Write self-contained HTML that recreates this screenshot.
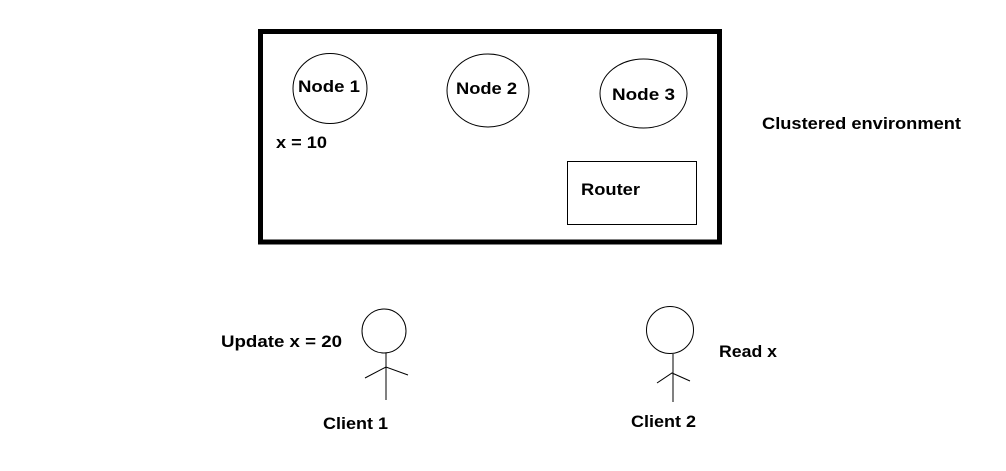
<!DOCTYPE html>
<html><head><style>body{margin:0;background:#fff}svg{display:block}text{font-family:"Liberation Sans",sans-serif;font-weight:bold;font-size:17px;fill:#000}</style></head>
<body><svg width="1006" height="471" viewBox="0 0 1006 471">
<rect x="260.5" y="31.5" width="459" height="210.5" fill="none" stroke="#000" stroke-width="5"/>
<ellipse cx="330" cy="88.5" rx="37" ry="35" fill="none" stroke="#000"/>
<ellipse cx="488" cy="90.5" rx="41" ry="36.5" fill="none" stroke="#000"/>
<ellipse cx="643.5" cy="93.5" rx="43.5" ry="34.5" fill="none" stroke="#000"/>
<rect x="567.5" y="161.5" width="129" height="63" fill="none" stroke="#000"/>
<text x="298" y="92" textLength="62" lengthAdjust="spacingAndGlyphs">Node 1</text>
<text x="456" y="94" textLength="61" lengthAdjust="spacingAndGlyphs">Node 2</text>
<text x="612" y="100" textLength="63" lengthAdjust="spacingAndGlyphs">Node 3</text>
<text x="276" y="148" textLength="51" lengthAdjust="spacingAndGlyphs">x = 10</text>
<text x="581" y="195" textLength="59" lengthAdjust="spacingAndGlyphs">Router</text>
<text x="762" y="129" textLength="199" lengthAdjust="spacingAndGlyphs">Clustered environment</text>
<circle cx="384" cy="331" r="22" fill="none" stroke="#000"/>
<path d="M386 353V400M365 378L386 367L408 375" fill="none" stroke="#000"/>
<circle cx="670" cy="330" r="23.5" fill="none" stroke="#000"/>
<path d="M673 354V402M657 383L672 373L690 381" fill="none" stroke="#000"/>
<text x="221" y="347" textLength="121" lengthAdjust="spacingAndGlyphs">Update x = 20</text>
<text x="719" y="357" textLength="58" lengthAdjust="spacingAndGlyphs">Read x</text>
<text x="323" y="429" textLength="65" lengthAdjust="spacingAndGlyphs">Client 1</text>
<text x="631" y="427" textLength="65" lengthAdjust="spacingAndGlyphs">Client 2</text>
</svg></body></html>
